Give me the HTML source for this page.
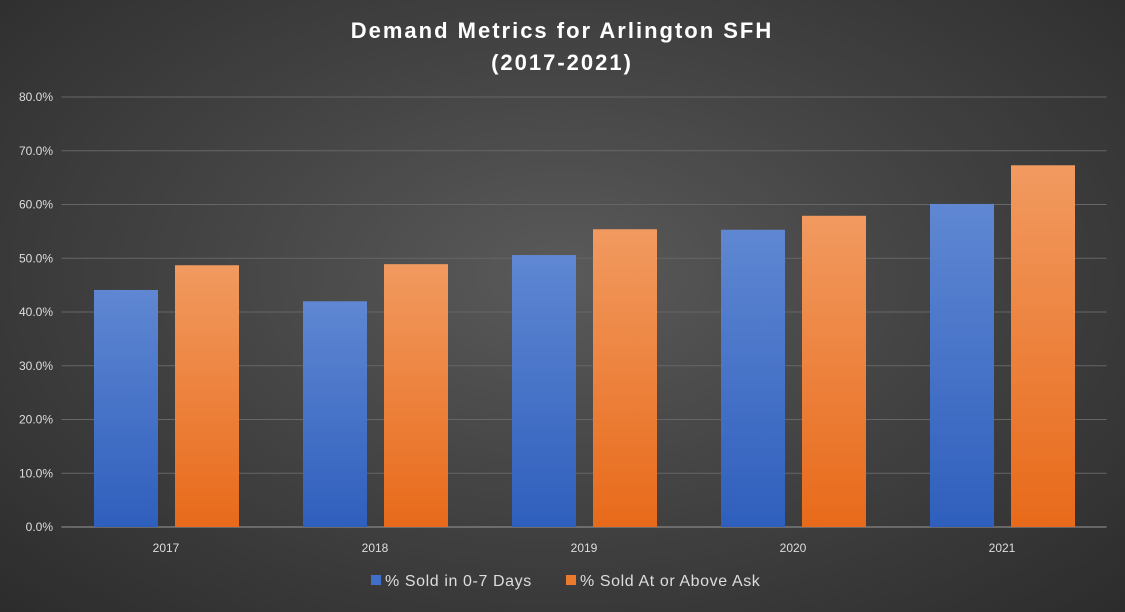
<!DOCTYPE html>
<html><head><meta charset="utf-8"><style>
html,body{margin:0;padding:0;}
body{width:1125px;height:612px;overflow:hidden;background:radial-gradient(ellipse at 50% 45%,#5a5a5a 0%,#444 45%,#2c2c2c 100%);font-family:"Liberation Sans",sans-serif;}
svg{display:block;}
</style></head><body>
<svg id="chart" width="1125" height="612" xmlns="http://www.w3.org/2000/svg">
<defs>
<linearGradient id="gb" x1="0" y1="0" x2="0" y2="1"><stop offset="0" stop-color="#5f87d2"/><stop offset="1" stop-color="#2f5fbd"/></linearGradient>
<linearGradient id="go" x1="0" y1="0" x2="0" y2="1"><stop offset="0" stop-color="#f19a60"/><stop offset="1" stop-color="#e86a1a"/></linearGradient>
</defs>
<text x="562" y="38" text-anchor="middle" fill="#fff" font-size="22" font-weight="bold" letter-spacing="2">Demand Metrics for Arlington SFH</text>
<text x="562" y="70" text-anchor="middle" fill="#fff" font-size="22" font-weight="bold" letter-spacing="2">(2017-2021)</text>
<g id="grid"></g><g id="bars"></g><g id="labels"></g>
<g>
<rect x="371" y="575" width="10" height="10" fill="#3f6fc8"/>
<text x="385" y="586" fill="#ddd" font-size="16" letter-spacing="0.6">% Sold in 0-7 Days</text>
<rect x="566" y="575" width="10" height="10" fill="#ec7a2e"/>
<text x="580" y="586" fill="#ddd" font-size="16" letter-spacing="0.6">% Sold At or Above Ask</text>
</g>
</svg>
<script>
const categories=["2017","2018","2019","2020","2021"];
const soldFast=[44.1,42.0,50.6,55.3,60.1];
const soldAboveAsk=[48.7,48.9,55.4,57.9,67.3];
const yTicks=[0,10,20,30,40,50,60,70,80];
const NS="http://www.w3.org/2000/svg";
const left=61.5,right=1106.5,y0=527,yTop=97,ymax=80;
const y=v=>y0-(v/ymax)*(y0-yTop);
const bw=(right-left)/categories.length;
const x=i=>left+bw*i;
function mk(t,a,p){const e=document.createElementNS(NS,t);for(const k in a)e.setAttribute(k,a[k]);p.appendChild(e);return e;}
const grid=document.getElementById('grid'),bars=document.getElementById('bars'),labels=document.getElementById('labels');
yTicks.forEach(t=>{
 const l=mk('line',{x1:left,x2:right,y1:y(t),y2:y(t),stroke:t===0?'#999':'#666','stroke-width':1},grid);
 
 
 const tx=mk('text',{x:53,y:y(t)+4,'text-anchor':'end',fill:'#ddd','font-size':12},labels);
 tx.textContent=t.toFixed(1)+'%';
 
 
});
categories.forEach((c,i)=>{
 const b=mk('rect',{x:x(i)+32.5,y:y(soldFast[i]),width:64,height:y0-y(soldFast[i]),fill:'url(#gb)'},bars);
 
 
 const o=mk('rect',{x:x(i)+113.5,y:y(soldAboveAsk[i]),width:64,height:y0-y(soldAboveAsk[i]),fill:'url(#go)'},bars);
 
 
 const t=mk('text',{x:x(i)+bw/2,y:552,'text-anchor':'middle',fill:'#ddd','font-size':12},labels);
 t.textContent=c;
 
 
});
</script>
</body></html>
